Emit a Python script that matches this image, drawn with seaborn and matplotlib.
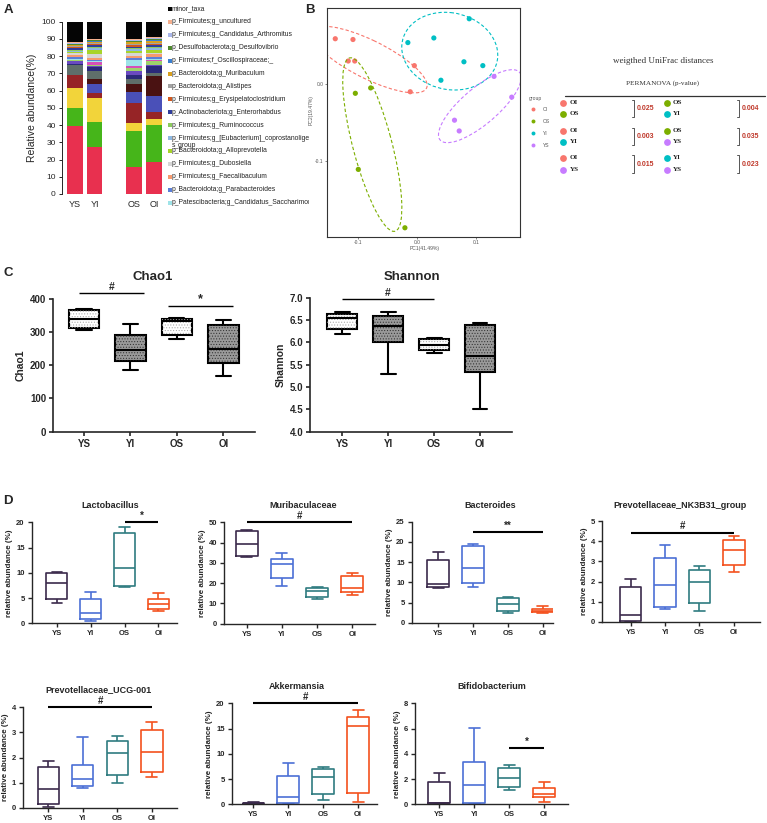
import numpy as np
import pandas as pd
import matplotlib
matplotlib.use("Agg")
import matplotlib.pyplot as plt
from matplotlib.patches import Ellipse, PathPatch
import seaborn as sns

sns.set_style("ticks")
plt.rcParams['font.family'] = ['Liberation Sans', 'DejaVu Sans']
plt.rcParams['hatch.linewidth'] = 0.45

# ---------------- data ----------------
groups = ["YS", "YI", "OS", "OI"]
bar_pos = [0, 1, 3, 4]

# panel A: stacked taxa, listed top of stack -> bottom (YS, YI, OS, OI)
taxa = [
    "minor_taxa",
    "p_Firmicutes;g_uncultured",
    "p_Firmicutes;g_Candidatus_Arthromitus",
    "p_Desulfobacterota;g_Desulfovibrio",
    "p_Firmicutes;f_Oscillospiraceae;_",
    "p_Bacteroidota;g_Muribaculum",
    "p_Bacteroidota;g_Alistipes",
    "p_Firmicutes;g_Erysipelatoclostridium",
    "p_Actinobacteriota;g_Enterorhabdus",
    "p_Firmicutes;g_Ruminococcus",
    "p_Firmicutes;g_[Eubacterium]_coprostanoligene\ns_group",
    "p_Bacteroidota;g_Alloprevotella",
    "p_Firmicutes;g_Dubosiella",
    "p_Firmicutes;g_Faecalibaculum",
    "p_Bacteroidota;g_Parabacteroides",
    "p_Patescibacteria;g_Candidatus_Saccharimonas",
    "other_11", "other_10", "other_9", "other_8", "other_7", "other_6",
    "other_5", "other_4", "other_3", "other_2", "other_1",
]
taxa_colors = [
    "#050505", "#F6B08E", "#A9B6EA", "#4E8A2E", "#3A7FD0", "#D9A01E",
    "#A3A3A3", "#D2581E", "#2F3D9C", "#8CCB5E", "#8DB8E2", "#A8D42A",
    "#D6D6D6", "#F79A6E", "#5B7FD8", "#9EE3E8",
    "#D64FB8", "#9ED36A", "#6A4AC0", "#2B2A7A", "#5F6E6A", "#4A1212",
    "#4A50B8", "#962426", "#F2D43A", "#46B51A", "#E8304F",
]
abund = [
    [12.0, 10.0, 10.0, 9.0],
    [0.5, 0.4, 0.5, 0.5],
    [0.4, 0.4, 0.5, 0.5],
    [0.4, 0.5, 0.5, 0.7],
    [0.4, 0.5, 0.5, 0.6],
    [0.6, 0.6, 0.8, 0.8],
    [0.6, 0.8, 0.8, 0.8],
    [0.6, 0.6, 0.8, 0.8],
    [0.7, 0.8, 0.8, 0.8],
    [0.6, 0.8, 0.8, 1.0],
    [0.6, 0.8, 1.0, 1.0],
    [0.6, 2.5, 1.0, 1.5],
    [1.2, 2.5, 2.0, 1.0],
    [1.5, 1.0, 1.0, 1.5],
    [0.8, 0.8, 1.0, 1.0],
    [0.5, 0.5, 3.5, 1.0],
    [0.5, 1.5, 1.5, 0.5],
    [0.5, 0.5, 1.5, 2.0],
    [1.5, 1.0, 2.5, 1.0],
    [0.5, 2.0, 2.0, 3.5],
    [6.0, 5.0, 3.0, 2.0],
    [0.0, 2.5, 5.0, 11.5],
    [0.0, 5.5, 6.0, 9.5],
    [7.5, 2.5, 12.0, 4.0],
    [11.5, 14.0, 4.5, 3.5],
    [10.5, 14.5, 21.0, 21.5],
    [39.5, 27.5, 15.5, 18.5],
]
n_legend = 16

# panel B: PCoA
pcoa_group = ["OI"] * 6 + ["OS"] * 4 + ["YI"] * 6 + ["YS"] * 4
pc1 = [-0.138, -0.108, -0.116, -0.105, -0.004, -0.011,
       -0.078, -0.104, -0.099, -0.020,
       -0.015, 0.029, 0.089, 0.080, 0.112, 0.041,
       0.131, 0.161, 0.064, 0.072]
pc2 = [0.059, 0.058, 0.030, 0.030, 0.024, -0.010,
       -0.005, -0.012, -0.111, -0.187,
       0.054, 0.060, 0.085, 0.029, 0.024, 0.005,
       0.010, -0.017, -0.047, -0.061]
pcoa_colors = {"OI": "#F8766D", "OS": "#7CAE00", "YI": "#00BFC4", "YS": "#C77CFF"}
ellipse_scale = {"OI": 1.7, "OS": 1.3, "YI": 1.75, "YS": 1.5}
perm_pairs = [("OI", "OS"), ("OI", "YI"), ("OI", "YS"),
              ("OS", "YI"), ("OS", "YS"), ("YI", "YS")]
perm_p = ["0.025", "0.003", "0.015", "0.004", "0.035", "0.023"]

# panels C/D: box summaries per group (min, q1, median, q3, max)
chao1 = [[307, 312, 340, 367, 370], [187, 213, 245, 292, 323],
         [280, 292, 332, 338, 342], [168, 207, 249, 320, 335]]
shannon = [[6.19, 6.29, 6.55, 6.63, 6.67], [5.30, 6.00, 6.37, 6.58, 6.69],
           [5.77, 5.83, 5.95, 6.07, 6.09], [4.50, 5.34, 5.70, 6.39, 6.44]]
lactobacillus = [[4.1, 4.75, 8.0, 10.0, 10.2], [0.5, 0.8, 2.1, 4.8, 6.1],
                 [7.1, 7.4, 11.0, 17.8, 19.0], [2.5, 2.9, 3.8, 4.8, 6.0]]
muribaculaceae = [[32.7, 33.5, 39.3, 45.7, 46.2], [18.5, 22.5, 29.3, 31.7, 35.0],
                  [12.0, 13.2, 16.2, 17.5, 18.0], [14.2, 15.5, 17.6, 23.5, 24.8]]
bacteroides = [[8.7, 8.9, 9.6, 15.5, 17.6], [8.9, 9.8, 13.6, 19.1, 19.5],
               [2.3, 2.8, 4.6, 6.0, 6.4], [2.4, 2.6, 3.0, 3.5, 4.2]]
nk3b31 = [[0.0, 0.05, 0.33, 1.75, 2.15], [0.65, 0.75, 1.83, 3.15, 3.83],
          [0.55, 0.92, 2.0, 2.55, 2.75], [2.5, 2.8, 3.57, 4.06, 4.27]]
ucg001 = [[0.02, 0.15, 0.73, 1.62, 1.86], [0.8, 0.88, 1.13, 1.7, 2.83],
          [0.98, 1.3, 2.18, 2.66, 2.86], [1.21, 1.44, 2.2, 3.08, 3.4]]
akkermansia = [[0.05, 0.1, 0.2, 0.35, 0.4], [0.1, 0.3, 1.5, 5.6, 8.1],
               [0.9, 2.0, 5.5, 7.0, 7.4], [0.4, 2.3, 15.5, 17.3, 18.6]]
bifidobacterium = [[0.05, 0.08, 0.1, 1.8, 2.45], [0.05, 0.1, 1.5, 3.38, 6.07],
                   [1.15, 1.4, 2.05, 2.85, 3.1], [0.15, 0.6, 0.8, 1.3, 1.75]]
box_colors = ["#3B2A4C", "#4B6FD6", "#2F7C80", "#F4511E"]

# ---------------- figure ----------------
W, H = 767, 823
fig = plt.figure(figsize=(W / 100, H / 100), dpi=100)


def px_axes(x0, y0, x1, y1):
    return fig.add_axes([x0 / W, 1 - y1 / H, (x1 - x0) / W, (y1 - y0) / H])


# ---- A: stacked bars
rows = []
for t, vals in zip(taxa, abund):
    for p, v in zip(bar_pos, vals):
        rows.append((t, p, v))
df_a = pd.DataFrame(rows, columns=["taxon", "pos", "value"])
ax_a = px_axes(62, 21.7, 165, 194)
sns.histplot(df_a, x="pos", hue="taxon", weights="value", multiple="stack",
             discrete=True, shrink=0.79, hue_order=taxa, palette=taxa_colors,
             linewidth=0, alpha=1, legend=False, ax=ax_a)
ax_a.set_xlim(-0.64, 4.55)
ax_a.set_ylim(0, 100)
ax_a.set_yticks(range(0, 101, 10))
ax_a.set_xticks(bar_pos, groups)
ax_a.set_xlabel("")
ax_a.set_ylabel("Relative abundance(%)", fontsize=7.5, labelpad=3)
ax_a.tick_params(axis="y", labelsize=6, length=2.5, width=0.7, pad=2)
ax_a.tick_params(axis="x", labelsize=6.5, length=0, pad=4)
sns.despine(ax=ax_a, bottom=True)
ax_a.spines["left"].set_linewidth(0.7)

# legend of panel A (clipped by panel B like the original)
ax_leg = px_axes(165, 0, 309, 215)
ax_leg.set_xlim(165, 309)
ax_leg.set_ylim(215, 0)
ax_leg.axis("off")
for i in range(n_legend):
    y = 9 + i * 12.9
    ax_leg.scatter([169.5], [y], marker="s", s=5, color=taxa_colors[i], linewidths=0)
    for j, line in enumerate(taxa[i].split("\n")):
        ax_leg.text(172, y + j * 7.2, line, fontsize=4.9, va="center", ha="left",
                    color="#222222", clip_on=True)

# ---- B: PCoA
ax_b = px_axes(327, 8, 520, 237)
sns.scatterplot(x=pc1, y=pc2, hue=pcoa_group, palette=pcoa_colors, s=14,
                linewidth=0, legend=False, ax=ax_b)
pc1_arr, pc2_arr, grp_arr = np.array(pc1), np.array(pc2), np.array(pcoa_group)
for g, col in pcoa_colors.items():
    x, y = pc1_arr[grp_arr == g], pc2_arr[grp_arr == g]
    vals, vecs = np.linalg.eigh(np.cov(x, y))
    order = vals.argsort()[::-1]
    vals, vecs = vals[order], vecs[:, order]
    ang = np.degrees(np.arctan2(vecs[1, 0], vecs[0, 0]))
    k = ellipse_scale[g]
    ax_b.add_patch(Ellipse((x.mean(), y.mean()), 2 * k * np.sqrt(vals[0]),
                           2 * k * np.sqrt(vals[1]), angle=ang, fill=False,
                           ec=col, lw=0.8, ls=(0, (3, 2))))
ax_b.set_xlim(-0.152, 0.175)
ax_b.set_ylim(-0.199, 0.099)
ax_b.set_xticks([-0.1, 0.0, 0.1], ["-0.1", "0.0", "0.1"])
ax_b.set_yticks([-0.1, 0.0], ["-0.1", "0.0"])
ax_b.tick_params(labelsize=3.5, length=1.5, width=0.5, colors="#555555", pad=1)
for sp in ax_b.spines.values():
    sp.set_linewidth(0.8)
    sp.set_color("#333333")

# ---- C: alpha diversity
def hatch_boxes(ax, faces, hatch_cols):
    boxes = sorted(ax.patches, key=lambda p: p.get_path().vertices[:, 0].mean())
    for p, fc, hc in zip(boxes, faces, hatch_cols):
        p.set_facecolor(fc)
        ax.add_patch(PathPatch(p.get_path(), transform=p.get_transform(),
                               facecolor="none", edgecolor=hc, lw=0,
                               hatch="......", zorder=p.get_zorder()))
    for ln in ax.lines:
        ln.set_zorder(4)


def style_axes(ax, xlim, ylim, yticks, lw, fs):
    ax.set_xlim(*xlim)
    ax.set_ylim(*ylim)
    ax.set_yticks(yticks)
    ax.set_xlabel("")
    sns.despine(ax=ax)
    for sp in ("left", "bottom"):
        ax.spines[sp].set_linewidth(lw)
    ax.tick_params(length=3, width=lw, labelsize=fs, pad=2)
    for lab in ax.get_xticklabels() + ax.get_yticklabels():
        lab.set_fontweight("bold")


def sig_bar(ax, x1, x2, y, sym, fs, lw):
    ax.plot([x1, x2], [y, y], color="black", lw=lw, clip_on=False,
            solid_capstyle="butt")
    ax.annotate(sym, ((x1 + x2) / 2, y), xytext=(0, 0.8), textcoords="offset points",
                ha="center", va="bottom", fontsize=fs, fontweight="bold",
                annotation_clip=False)


c_specs = [
    ("Chao1", chao1, (53.3, 298.7, 255, 431.7), (-0.66, 3.68), (0, 400),
     [0, 100, 200, 300, 400], [(-0.1, 1.3, 418, "#"), (1.8, 3.2, 377, "*")], 153),
    ("Shannon", shannon, (310, 297.7, 511.7, 431.7), (-0.70, 3.69), (4.0, 7.0),
     [4.0, 4.5, 5.0, 5.5, 6.0, 6.5, 7.0], [(0, 2, 6.96, "#")], 411.7),
]
for name, summ, box, xlim, ylim, yticks, sigs, tx in c_specs:
    ax = px_axes(*box)
    df = pd.DataFrame({"group": np.repeat(groups, 5), "value": np.concatenate(summ)})
    sns.boxplot(data=df, x="group", y="value", order=groups, color="white",
                linecolor="black", linewidth=1.5, width=0.65, whis=(0, 100),
                showfliers=False, ax=ax)
    hatch_boxes(ax, ["white", "#9a9a9a", "white", "#9a9a9a"],
                ["#a8a8a8", "#333333", "#a8a8a8", "#333333"])
    style_axes(ax, xlim, ylim, yticks, 1.2, 7)
    if name == "Shannon":
        ax.yaxis.set_major_formatter(matplotlib.ticker.FormatStrFormatter("%.1f"))
        for lab in ax.get_yticklabels():
            lab.set_fontweight("bold")
    ax.set_ylabel(name, fontsize=7.5, fontweight="bold", labelpad=3)
    for x1, x2, y, sym in sigs:
        sig_bar(ax, x1, x2, y, sym, 7.5 if sym == "#" else 9, 1.0)
    fig.text(tx / W, 1 - 277 / H, name, fontsize=9.5, fontweight="bold",
             ha="center", va="center")

# ---- D: genus-level boxes
d_specs = [
    ("Lactobacillus", lactobacillus, (31.7, 522.3, 176.7, 623.3), (-0.74, 3.54),
     20, 5, [(2, 3, 20.1, "*")], (110, 505.7)),
    ("Muribaculaceae", muribaculaceae, (224, 522.3, 375, 623.7), (-0.64, 3.64),
     50, 10, [(0, 3, 50, "#")], (303, 505.7)),
    ("Bacteroides", bacteroides, (411.7, 521.7, 553.3, 622.7), (-0.76, 3.3),
     25, 5, [(1, 3, 22.4, "**")], (490, 505.7)),
    ("Prevotellaceae_NK3B31_group", nk3b31, (601.7, 521, 760, 622), (-0.84, 3.76),
     5, 1, [(0, 3, 4.43, "#")], (680, 505.7)),
    ("Prevotellaceae_UCG-001", ucg001, (22.7, 707.3, 176.7, 807.7), (-0.74, 3.72),
     4, 1, [(0, 3, 4.0, "#")], (98, 690)),
    ("Akkermansia", akkermansia, (231.7, 703.3, 376.7, 804.3), (-0.62, 3.53),
     20, 5, [(0, 3, 20, "#")], (297, 686.7)),
    ("Bifidobacterium", bifidobacterium, (415, 703.3, 568.3, 804.3), (-0.69, 3.69),
     8, 2, [(2, 3, 4.43, "*")], (492, 686.7)),
]
for name, summ, box, xlim, ymax, ystep, sigs, (tx, ty) in d_specs:
    ax = px_axes(*box)
    df = pd.DataFrame({"group": np.repeat(groups, 5), "value": np.concatenate(summ)})
    sns.boxplot(data=df, x="group", y="value", hue="group", order=groups,
                hue_order=groups, palette=box_colors, fill=False, linewidth=1.2,
                width=0.62, whis=(0, 100), showfliers=False, legend=False, ax=ax)
    style_axes(ax, xlim, (0, ymax), np.arange(0, ymax + ystep / 2, ystep), 1.0, 5.5)
    ax.set_ylabel("relative abundance (%)", fontsize=5.8, fontweight="bold", labelpad=2)
    for x1, x2, y, sym in sigs:
        sig_bar(ax, x1, x2, y, sym, 7, 1.5)
    fig.text(tx / W, 1 - ty / H, name, fontsize=6.5, fontweight="bold",
             ha="center", va="center")

# ---- overlay: panel letters, PCoA labels, group legend, PERMANOVA table
ov = fig.add_axes([0, 0, 1, 1])
ov.set_xlim(0, W)
ov.set_ylim(H, 0)
ov.axis("off")
ov.patch.set_alpha(0)
for lab, (x, y) in {"A": (8, 10), "B": (310, 10), "C": (8, 273), "D": (8, 501)}.items():
    ov.text(x, y, lab, fontsize=9.5, fontweight="bold", ha="center", va="center")

ov.text(425, 248, "PC1(41.49%)", fontsize=3.6, color="#555555", ha="center", va="center")
ov.text(311, 110, "PC2(19.47%)", fontsize=3.6, color="#555555", ha="center",
        va="center", rotation=90)

ov.text(529, 98.3, "group", fontsize=3.6, color="#555555", ha="left", va="center")
for i, g in enumerate(["OI", "OS", "YI", "YS"]):
    y = 109.3 + i * 12
    ov.scatter([533.3], [y], s=8, color=pcoa_colors[g], linewidths=0)
    ov.text(542.7, y, g, fontsize=3.6, color="#555555", ha="left", va="center")

serif = ["Liberation Serif", "DejaVu Serif"]
ov.text(663, 60.7, "weigthed UniFrac distances", fontsize=6.5, family=serif,
        ha="center", va="center", color="#333333")
ov.text(663, 82.7, "PERMANOVA (p-value)", fontsize=5.2, family=serif,
        ha="center", va="center", color="#333333")
ov.plot([565, 765], [95.7, 95.7], color="#333333", lw=0.9)
circle_x = [563.3, 666.7]
label_x = [569.5, 673.0]
bracket_x = [631.7, 736.7]
row_y = [102.7, 130.7, 158.3]
for k, ((g1, g2), p) in enumerate(zip(perm_pairs, perm_p)):
    col, row = divmod(k, 3)
    y1 = row_y[row]
    y2 = y1 + 11.6
    for g, y in ((g1, y1), (g2, y2)):
        ov.scatter([circle_x[col]], [y], s=24, color=pcoa_colors[g], linewidths=0)
        ov.text(label_x[col], y - 0.5, g, fontsize=5, family=serif, fontweight="bold",
                ha="left", va="center", color="#222222")
    bx = bracket_x[col]
    ov.plot([bx, bx + 2.6, bx + 2.6, bx], [y1 - 3, y1 - 3, y2 + 3, y2 + 3],
            color="#555555", lw=0.7)
    ov.text(bx + 5.3, (y1 + y2) / 2, p, fontsize=5, fontweight="bold",
            color="#C0392B", ha="left", va="center")

fig.savefig("out.png", dpi=100)
